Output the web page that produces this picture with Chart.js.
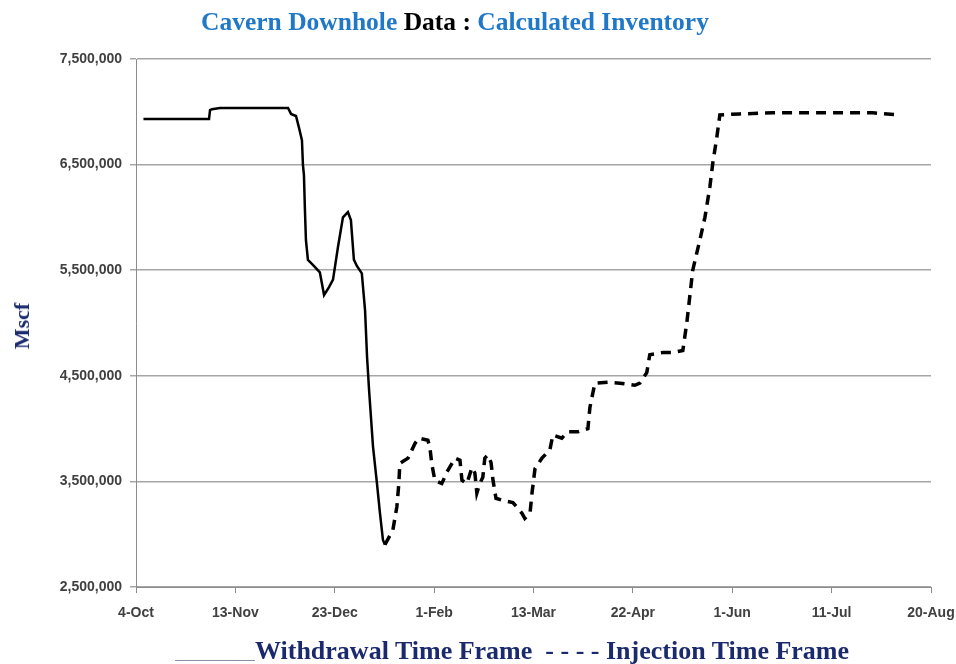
<!DOCTYPE html>
<html>
<head>
<meta charset="utf-8">
<script src="https://cdn.jsdelivr.net/npm/chart.js@4.4.1/dist/chart.umd.min.js"></script>
<style>
    body { margin: 0; background: #fff; }
    #wrap { position: relative; width: 956px; height: 664px; overflow: hidden; }
    #wrap canvas { position: absolute; left: 0; top: 0; }
    .serif { font-family: "Liberation Serif", "Times New Roman", serif; font-weight: bold; position: absolute; white-space: nowrap; }
    #title { left: 0; width: 910px; top: 7px; text-align: center; font-size: 25.5px; color: #1f78c8; }
    #title .blk { color: #000; }
    #ylabel { left: 22px; top: 326px; font-size: 22px; color: #1a2a6c; transform: translate(-50%, -50%) rotate(-90deg); }
    #legend { left: 255px; top: 636px; font-size: 26px; color: #1a2a6c; }
    #legline { position: absolute; left: 175px; top: 660px; width: 80px; height: 1px; background: #8c90a8; }
</style>
</head>
<body>
<div id="wrap">
    <canvas id="chart" width="956" height="664"></canvas>
    <div id="title" class="serif">Cavern Downhole <span class="blk">Data :</span> Calculated Inventory</div>
    <div id="ylabel" class="serif">Mscf</div>
    <div id="legline"></div>
    <div id="legend" class="serif">Withdrawal Time Frame &nbsp;- - - - Injection Time Frame</div>
</div>
<script>
// x = days since 4-Oct
const dateLabels = ["4-Oct", "13-Nov", "23-Dec", "1-Feb", "13-Mar", "22-Apr", "1-Jun", "11-Jul", "20-Aug"];

const withdrawalDays = [3, 29.4, 29.8, 30.6, 33.8, 61.2, 62.4, 64.4, 65.6, 66.8, 67.2, 67.6, 68, 68.4, 69.2, 71.2, 74, 75.7, 77.7, 79.3, 81.3, 83.3, 85.3, 86.5, 87.7, 88.9, 90.9, 92.2, 93, 93.8, 95.4, 97, 98.2, 99.4, 100.2];
const withdrawalValues = [6932000, 6932000, 7017000, 7025000, 7036000, 7036000, 6980000, 6960000, 6850000, 6730000, 6496000, 6400000, 6070000, 5786000, 5597000, 5550000, 5480000, 5265000, 5340000, 5410000, 5720000, 6000000, 6050000, 5975000, 5600000, 5540000, 5470000, 5120000, 4680000, 4370000, 3830000, 3480000, 3200000, 2945000, 2900000];

const injectionDays = [100.2, 103.4, 105, 105.8, 106.2, 109.5, 112.3, 113.9, 117.5, 118.3, 119.1, 120.3, 123.1, 125.2, 128.4, 130.4, 131.2, 133.2, 135.2, 136.4, 137.2, 138.4, 139.6, 140.4, 141.6, 142.9, 143.7, 144.9, 147.7, 151.7, 155.3, 156.5, 158.6, 159.4, 160.6, 163.4, 166.6, 167.8, 171.4, 173.8, 177.9, 181.9, 182.7, 184.7, 189.9, 194.8, 200.8, 202.8, 205.6, 206.8, 212.1, 216.1, 220.1, 221.7, 224.1, 227, 229, 231, 232.2, 233.8, 235, 243, 256.3, 270, 283.3, 296.6, 307.4];
const injectionValues = [2900000, 3040000, 3260000, 3480000, 3670000, 3720000, 3860000, 3910000, 3890000, 3820000, 3660000, 3510000, 3480000, 3590000, 3720000, 3700000, 3510000, 3480000, 3630000, 3580000, 3390000, 3480000, 3540000, 3720000, 3750000, 3680000, 3510000, 3340000, 3320000, 3300000, 3200000, 3150000, 3200000, 3390000, 3620000, 3720000, 3800000, 3940000, 3910000, 3970000, 3970000, 4000000, 4200000, 4430000, 4440000, 4430000, 4410000, 4430000, 4530000, 4700000, 4720000, 4720000, 4740000, 5000000, 5500000, 5790000, 6000000, 6290000, 6520000, 6760000, 6970000, 6980000, 6990000, 6990000, 6990000, 6990000, 6970000];

const yTicks = [2500000, 3500000, 4500000, 5500000, 6500000, 7500000];

const toPoints = (xs, ys) => xs.map((d, i) => ({ x: d, y: ys[i] }));

const tickFont = { family: '"Liberation Sans", Arial, sans-serif', size: 14, weight: 'bold' };

new Chart(document.getElementById('chart'), {
    type: 'line',
    data: {
        datasets: [
            {
                label: 'Withdrawal Time Frame',
                data: toPoints(withdrawalDays, withdrawalValues),
                borderColor: '#000',
                borderWidth: 2.5,
                pointRadius: 0,
                tension: 0,
            },
            {
                label: 'Injection Time Frame',
                data: toPoints(injectionDays, injectionValues),
                borderColor: '#000',
                borderWidth: 3.5,
                borderDash: [10, 7],
                pointRadius: 0,
                tension: 0,
            },
        ],
    },
    options: {
        responsive: false,
        animation: false,
        layout: { padding: { left: 0, top: 59, right: 25, bottom: 0 } },
        plugins: {
            legend: { display: false },
            title: { display: false },
            tooltip: { enabled: false },
        },
        scales: {
            x: {
                type: 'linear',
                min: 0,
                max: 320,
                grid: { drawOnChartArea: false, drawTicks: true, tickLength: 6, color: '#8c8c8c' },
                border: { color: '#8c8c8c', width: 1 },
                afterBuildTicks: (s) => { s.ticks = dateLabels.map((_, i) => ({ value: i * 40 })); },
                afterFit: (s) => { s.height = 77; s.paddingLeft = 0; s.paddingRight = 0; },
                ticks: {
                    autoSkip: false,
                    maxRotation: 0,
                    padding: 12,
                    color: '#404040',
                    font: tickFont,
                    callback: (v) => dateLabels[v / 40],
                },
            },
            y: {
                min: 2500000,
                max: 7500000,
                grid: { color: '#a6a6a6', tickLength: 6, lineWidth: 1.5 },
                border: { color: '#8c8c8c', width: 1 },
                afterBuildTicks: (s) => { s.ticks = yTicks.map(v => ({ value: v })); },
                afterFit: (s) => { s.width = 136; },
                ticks: {
                    padding: 8,
                    color: '#404040',
                    font: tickFont,
                    callback: (v) => v.toLocaleString('en-US'),
                },
            },
        },
    },
});
</script>
</body>
</html>
